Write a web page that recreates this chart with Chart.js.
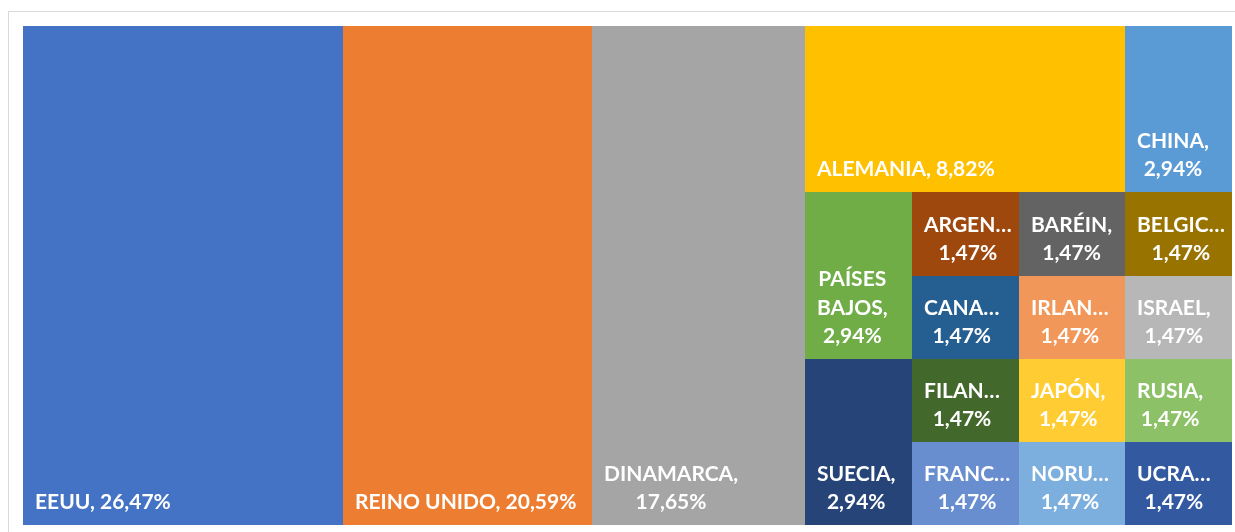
<!DOCTYPE html>
<html>
<head>
<meta charset="utf-8">
<script src="https://cdn.jsdelivr.net/npm/chart.js@4"></script>
<style>
    body { margin: 0; background: #fff; }
    #caja { position: relative; width: 1235px; height: 532px; overflow: hidden; }
</style>
</head>
<body>
<div id="caja"><canvas id="treemap"></canvas></div>
<script>
// names as Excel shows them (the long ones are cut with …)
const paises = ['EEUU', 'REINO UNIDO', 'DINAMARCA', 'ALEMANIA', 'CHINA', 'PAÍSES BAJOS', 'SUECIA',
    'ARGEN…', 'BARÉIN', 'BELGIC…', 'CANA…', 'FILAN…', 'FRANC…', 'IRLAN…', 'ISRAEL',
    'JAPÓN', 'NORU…', 'RUSIA', 'UCRA…'];
const porcentajes = [26.47, 20.59, 17.65, 8.82, 2.94, 2.94, 2.94,
    1.47, 1.47, 1.47, 1.47, 1.47, 1.47, 1.47, 1.47,
    1.47, 1.47, 1.47, 1.47];
const colores = ['#4472C4', '#ED7D31', '#A5A5A5', '#FFC000', '#5B9BD5', '#70AD47', '#264478',
    '#9E480E', '#636363', '#997300', '#255E91', '#43682B', '#698ED0', '#F1975A', '#B7B7B7',
    '#FFCD33', '#7CAFDD', '#8CC168', '#335AA1'];

// how Excel split the rectangle: 'h' = side by side, 'v' = stacked
const reparto = ['h', 'EEUU', 'REINO UNIDO', 'DINAMARCA',
    ['v',
        ['h', 'ALEMANIA', 'CHINA'],
        ['h',
            ['v', 'PAÍSES BAJOS', 'SUECIA'],
            ['v', 'ARGEN…', 'CANA…', 'FILAN…', 'FRANC…'],
            ['v', 'BARÉIN', 'IRLAN…', 'JAPÓN', 'NORU…'],
            ['v', 'BELGIC…', 'ISRAEL', 'RUSIA', 'UCRA…'],
        ],
    ],
];

function suma(nodo) {
    if (typeof nodo === 'string') return porcentajes[paises.indexOf(nodo)];
    return nodo.slice(1).reduce((s, h) => s + suma(h), 0);
}

function dividir(nodo, x0, y0, x1, y1, out) {
    if (typeof nodo === 'string') {
        const i = paises.indexOf(nodo);
        out.push({ nombre: nodo, valor: porcentajes[i], color: colores[i], x0, y0, x1, y1, x: (x0 + x1) / 2, y: (y0 + y1) / 2 });
        return out;
    }
    const dir = nodo[0];
    const total = suma(nodo);
    let pos = dir === 'h' ? x0 : y0;
    nodo.slice(1).forEach(h => {
        const t = suma(h) / total * (dir === 'h' ? x1 - x0 : y1 - y0);
        if (dir === 'h') dividir(h, pos, y0, pos + t, y1, out);
        else dividir(h, x0, pos, x1, pos + t, out);
        pos += t;
    });
    return out;
}

const celdas = dividir(reparto, 0, 0, 1, 1, []);

function partirTexto(ctx, texto, maxW) {
    const lineas = [];
    let actual = '';
    texto.split(' ').forEach(p => {
        const prueba = actual ? actual + ' ' + p : p;
        if (ctx.measureText(prueba).width <= maxW || !actual) {
            actual = prueba;
        } else {
            lineas.push(actual);
            actual = p;
        }
    });
    if (actual) lineas.push(actual);
    return lineas;
}

const dibujarCeldas = {
    id: 'dibujarCeldas',
    beforeDraw(chart) {
        const ctx = chart.ctx;
        ctx.save();
        ctx.strokeStyle = '#D9D9D9';
        ctx.lineWidth = 1;
        ctx.strokeRect(8.5, 11.5, 1300, 600);
        ctx.restore();
    },
    afterDatasetsDraw(chart) {
        const ctx = chart.ctx;
        const sx = chart.scales.x;
        const sy = chart.scales.y;
        ctx.save();
        celdas.forEach(c => {
            const l = Math.round(sx.getPixelForValue(c.x0));
            const r = Math.round(sx.getPixelForValue(c.x1));
            const t = Math.round(sy.getPixelForValue(c.y0));
            const b = Math.round(sy.getPixelForValue(c.y1));
            ctx.fillStyle = c.color;
            ctx.fillRect(l, t, r - l, b - t);
        });
        ctx.font = 'bold 21px Lato';
        ctx.fillStyle = '#FFFFFF';
        ctx.textAlign = 'center';
        ctx.textBaseline = 'alphabetic';
        celdas.forEach(c => {
            const l = Math.round(sx.getPixelForValue(c.x0));
            const r = Math.round(sx.getPixelForValue(c.x1));
            const b = Math.round(sy.getPixelForValue(c.y1));
            const pct = c.valor.toFixed(2).replace('.', ',') + '%';
            const texto = c.nombre.endsWith('…') ? c.nombre + ' ' + pct : c.nombre + ', ' + pct;
            const lineas = partirTexto(ctx, texto, r - l - 20);
            const ancho = Math.max(...lineas.map(s => ctx.measureText(s).width));
            const cx = l + 12 + ancho / 2;
            lineas.forEach((s, k) => {
                ctx.fillText(s, cx, b - 16 - (lineas.length - 1 - k) * 28.5);
            });
        });
        ctx.restore();
    },
};

new Chart(document.getElementById('treemap'), {
    type: 'scatter',
    data: {
        datasets: [{
            data: celdas,
            pointRadius: 0,
            pointHoverRadius: 0,
        }],
    },
    options: {
        responsive: true,
        maintainAspectRatio: false,
        animation: false,
        layout: {
            padding: { left: 23, top: 26, right: 3, bottom: 7 },
        },
        scales: {
            x: { type: 'linear', min: 0, max: 1, display: false },
            y: { type: 'linear', min: 0, max: 1, reverse: true, display: false },
        },
        plugins: {
            legend: { display: false },
            tooltip: { enabled: false },
        },
    },
    plugins: [dibujarCeldas],
});
</script>
</body>
</html>
